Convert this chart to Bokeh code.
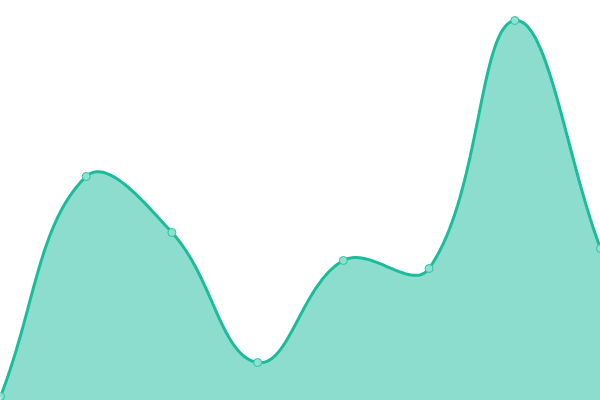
import numpy as np
from bokeh.plotting import figure
from bokeh.models import Range1d
from bokeh.embed import file_html
from bokeh.resources import INLINE

# data
categories = ["A", "B", "C", "D", "E", "F", "G", "H"]
values = [1, 56, 42, 9.5, 35, 33, 95, 38]

W, H = 600, 400
Y_MIN, Y_MAX = 0, 100
TENSION = 0.4

n = len(values)
xs = np.arange(n, dtype=float)
ys = np.array(values, dtype=float)

# Chart.js-like spline in pixel space
px = xs * W / (n - 1)
py = (ys - Y_MIN) / (Y_MAX - Y_MIN) * H

cp_prev = []
cp_next = []
for i in range(n):
    p0 = (px[max(i - 1, 0)], py[max(i - 1, 0)])
    p1 = (px[i], py[i])
    p2 = (px[min(i + 1, n - 1)], py[min(i + 1, n - 1)])
    d01 = np.hypot(p1[0] - p0[0], p1[1] - p0[1])
    d12 = np.hypot(p2[0] - p1[0], p2[1] - p1[1])
    tot = d01 + d12
    s01 = d01 / tot if tot else 0
    s12 = d12 / tot if tot else 0
    fa = TENSION * s01
    fb = TENSION * s12
    c1 = (p1[0] - fa * (p2[0] - p0[0]), min(max(p1[1] - fa * (p2[1] - p0[1]), 0), H))
    c2 = (p1[0] + fb * (p2[0] - p0[0]), min(max(p1[1] + fb * (p2[1] - p0[1]), 0), H))
    cp_prev.append(c1)
    cp_next.append(c2)

cx, cy = [], []
t = np.linspace(0, 1, 40)
for i in range(n - 1):
    a = (px[i], py[i])
    b = cp_next[i]
    c = cp_prev[i + 1]
    d = (px[i + 1], py[i + 1])
    bx = (1 - t) ** 3 * a[0] + 3 * (1 - t) ** 2 * t * b[0] + 3 * (1 - t) * t ** 2 * c[0] + t ** 3 * d[0]
    by = (1 - t) ** 3 * a[1] + 3 * (1 - t) ** 2 * t * b[1] + 3 * (1 - t) * t ** 2 * c[1] + t ** 3 * d[1]
    if i > 0:
        bx, by = bx[1:], by[1:]
    cx.extend(bx)
    cy.extend(by)

sx = np.array(cx) * (n - 1) / W
sy = np.array(cy) / H * (Y_MAX - Y_MIN) + Y_MIN

p = figure(width=W, height=H, output_backend="svg", toolbar_location=None,
           x_range=Range1d(0, n - 1), y_range=Range1d(Y_MIN, Y_MAX),
           min_border=0, outline_line_color=None)
p.axis.visible = False
p.grid.visible = False
p.background_fill_color = "white"
p.border_fill_color = "white"

p.varea(x=sx, y1=Y_MIN, y2=sy, fill_color="#1abc9c", fill_alpha=0.5)
p.line(sx, sy, line_color="#1abc9c", line_width=3)
p.scatter(xs, ys, size=8, fill_color="#8ee0cf", line_color="#2cc3a4", line_width=1)

open("out.html", "w").write(file_html(p, INLINE))
